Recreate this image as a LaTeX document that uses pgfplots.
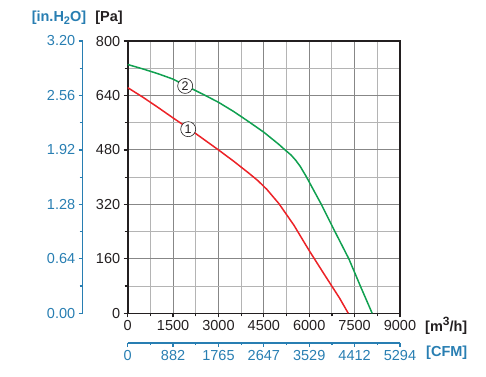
\documentclass[border=0pt]{standalone}
\usepackage{pgfplots}
\pgfplotsset{compat=1.18}
\usepackage{fontspec}
\setmainfont{Liberation Sans}
\definecolor{cblue}{RGB}{40,126,178}
\definecolor{axdark}{RGB}{35,31,32}
\definecolor{gridmaj}{RGB}{135,135,135}
\definecolor{gridmin}{RGB}{180,180,180}
\definecolor{cred}{RGB}{236,34,39}
\definecolor{cgreen}{RGB}{16,160,80}
\begin{document}
\begin{tikzpicture}[x=1pt,y=1pt]
\useasboundingbox (-127.7pt,-62.7pt) rectangle (358.3pt,313.3pt);
\begin{axis}[at={(0pt,0pt)},anchor=south west,scale only axis,
  width=272.3pt,height=272.3pt,
  xmin=0,xmax=9000,ymin=0,ymax=800,
  xtick={0,1500,...,9000}, minor xtick={750,2250,...,8250},
  ytick={0,160,...,800}, minor ytick={80,240,...,720},
  grid=both,
  major grid style={color=gridmaj,line width=1.1pt},
  minor grid style={color=gridmin,line width=1pt},
  axis line style={line width=1.6pt,color=axdark},
  tick pos=left, tick align=outside,
  major tick length=4pt, minor tick length=3pt,
  every tick/.style={line width=1.2pt,color=axdark},
  ticklabel style={font=\fontsize{14.5}{17}\selectfont,color=axdark},
  scaled x ticks=false, scaled y ticks=false,
  /pgf/number format/assume math mode=true,
  /pgf/number format/1000 sep={},
]
\addplot[cred,line width=1.5pt] coordinates {
(0,663) (500,635) (1000,605) (1500,574) (2000,544) (2500,512) (3000,480)
(3500,447) (4000,412) (4300,390) (4600,364) (5000,322) (5500,258) (6000,184)
(6500,114) (7000,45) (7290,0)};
\addplot[cgreen,line width=1.5pt] coordinates {
(0,731) (500,718) (1000,704) (1500,688) (2000,665) (2500,643) (3000,620)
(3500,593) (4000,563) (4500,532) (5000,496) (5200,480) (5400,465) (5550,450)
(5700,432) (5900,402) (6400,320) (6850,240) (7310,160) (7690,80) (8080,0)};
\node[circle,draw=axdark,fill=white,line width=0.6pt,inner sep=0.6pt,minimum size=15pt,font=\fontsize{12.5}{13}\selectfont,text=axdark] at (axis cs:1900,668) {2};
\node[circle,draw=axdark,fill=white,line width=0.6pt,inner sep=0.6pt,minimum size=15pt,font=\fontsize{12.5}{13}\selectfont,text=axdark] at (axis cs:2000,541) {1};
\end{axis}
% left in.H2O axis
\begin{axis}[at={(-45pt,0pt)},anchor=south west,scale only axis,
  width=10pt,height=272.3pt,
  xmin=0,xmax=1,ymin=0,ymax=3.2,
  hide x axis, axis y line*=left,
  ytick={0,0.64,1.28,1.92,2.56,3.2},
  yticklabels={0.00,0.64,1.28,1.92,2.56,3.20},
  minor ytick={0.32,0.96,1.6,2.24,2.88},
  tick align=outside,
  major tick length=4pt, minor tick length=3pt,
  axis line style={line width=1.6pt,color=cblue},
  every tick/.style={line width=1.2pt,color=cblue},
  ticklabel style={font=\fontsize{14.5}{17}\selectfont,text=cblue},
]
\end{axis}
% bottom CFM axis
\begin{axis}[at={(0pt,-29.4pt)},anchor=south west,scale only axis,
  width=272.3pt,height=10pt,
  xmin=0,xmax=9000,ymin=0,ymax=1,
  hide y axis, axis x line*=bottom,
  xtick={0,1500,...,9000},
  xticklabels={0,882,1765,2647,3529,4412,5294},
  minor xtick={750,2250,...,8250},
  tick align=outside,
  major tick length=4pt, minor tick length=2.5pt,
  axis line style={line width=1.6pt,color=cblue},
  every tick/.style={line width=1.2pt,color=cblue},
  ticklabel style={font=\fontsize{14.5}{17}\selectfont,text=cblue},
  scaled x ticks=false,
]
\end{axis}
\node[font=\bfseries\fontsize{14.5}{17}\selectfont,text=axdark] at (-18.7pt,295.3pt) {[Pa]};
\node[font=\bfseries\fontsize{14.5}{17}\selectfont,text=cblue] at (-68.7pt,295.3pt) {[in.H\raisebox{-3pt}{\fontsize{11}{12}\selectfont 2}O]};
\node[anchor=west,font=\bfseries\fontsize{14.5}{17}\selectfont,text=axdark,inner sep=0pt] at (297.3pt,-12.7pt) {[m\raisebox{6pt}{\fontsize{12}{13}\selectfont 3}/h]};
\node[anchor=west,font=\bfseries\fontsize{14.5}{17}\selectfont,text=cblue,inner sep=0pt] at (298.3pt,-39.7pt) {[CFM]};
\end{tikzpicture}
\end{document}
